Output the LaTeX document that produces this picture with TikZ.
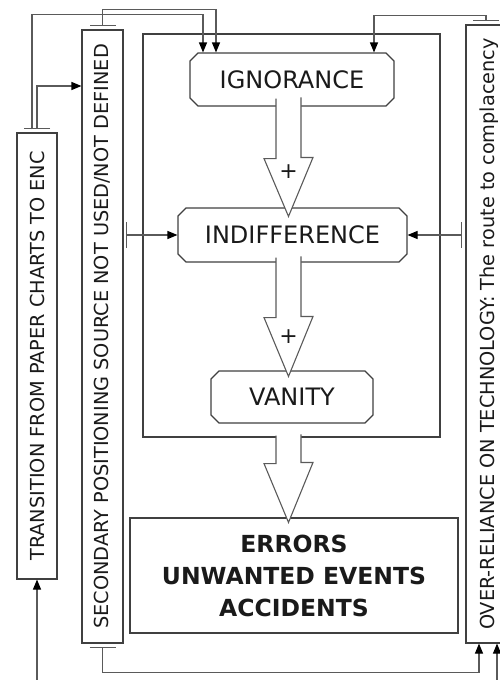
\documentclass[tikz,border=0pt]{standalone}
\usepackage{fontspec}
\setmainfont{DejaVu Sans}
\usepackage{tikz}
\usetikzlibrary{arrows.meta,positioning,shapes.misc,calc}
\definecolor{cline}{HTML}{5A5A5A}
\definecolor{cbox}{HTML}{404040}
\definecolor{ctext}{HTML}{1A1A1A}

\begin{document}
\begin{tikzpicture}[x=1pt, y=-1pt,
    stage/.style={chamfered rectangle, chamfered rectangle xsep=4pt, chamfered rectangle ysep=4pt, draw=cbox, line width=1.1pt, fill=white, inner sep=0pt, text=ctext, font=\fontsize{24}{28}\selectfont},
    side/.style={rectangle, draw=cbox, line width=1.1pt, inner sep=0pt, minimum width=40pt, text=ctext, font=\fontsize{19.3}{23}\selectfont},
    outcome/.style={rectangle, draw=cbox, line width=1.1pt, inner sep=0pt, align=center, text=ctext, font=\fontsize{23.5}{32}\selectfont\bfseries},
    arr/.style={draw=cline, line width=1.1pt, -{Triangle[length=10pt, width=8pt, color=black]}},
    tail/.style={arr, {Bar[width=26pt, color=cline]}-{Triangle[length=10pt, width=8pt, color=black]}},
    blk/.style={draw=cline, fill=white, line width=1.1pt},
    plus/.style={font=\fontsize{22}{22}\selectfont, text=ctext}
]
    \useasboundingbox (0,0) rectangle (499,680);

    % side boxes
    \node[side, minimum height=446pt] (trans) at (37,356) {\rotatebox{90}{TRANSITION FROM PAPER CHARTS TO ENC}};
    \node[side, minimum height=613pt, minimum width=41pt] (second) at (102.5,336.5) {\rotatebox{90}{SECONDARY POSITIONING SOURCE NOT USED/NOT DEFINED}};
    \node[side, minimum height=618pt, minimum width=46pt] (over) at (489,334) {\rotatebox{90}{OVER-RELIANCE ON TECHNOLOGY: The route to complacency}};

    % frame and stages
    \node[rectangle, draw=cbox, line width=1.1pt, minimum width=297pt, minimum height=403pt] (frame) at (291.5,235.5) {};
    \node[stage, minimum width=204pt, minimum height=53pt] (ign) at (292,79.5) {IGNORANCE};
    \node[stage, minimum width=229pt, minimum height=54pt] (ind) at (292.5,235) {INDIFFERENCE};
    \node[stage, minimum width=162pt, minimum height=52pt] (van) at (292,397) {VANITY};
    \node[outcome, minimum width=328pt, minimum height=115pt] (err) at (294,575.5) {ERRORS\\UNWANTED EVENTS\\ACCIDENTS};

    % block arrows
    \filldraw[blk] ([xshift=-16pt,yshift=8pt]ign.south) -- ++(0,60) -- ++(-12,0) -- ([xshift=-4pt,yshift=-9pt]ind.north) -- ++(24.5,-59) -- ++(-12,0) -- ++(0,-60);
    \filldraw[blk] ([xshift=-16.5pt,yshift=5pt]ind.south) -- ++(0,60) -- ++(-12,0) -- ([xshift=-3.5pt,yshift=-6pt]van.north) -- ++(24.5,-60) -- ++(-12,0) -- ++(0,-60);
    \filldraw[blk] ([xshift=-15.5pt,yshift=2pt]frame.south) -- ++(0,28) -- ++(-12,0) -- ([xshift=-5.5pt,yshift=-5pt]err.north) -- ++(24.5,-60) -- ++(-12,0) -- ++(0,-28);
    \node[plus] (plus1) at (288.5,172) {+};
    \node[plus] (plus2) at (288.5,337) {+};

    % connectors
    \draw[arr] ([xshift=-5pt,yshift=3pt]trans.north) -- ++(0,-115) -| ([xshift=-89pt]ign.north);
    \draw[tail] ([yshift=3pt]trans.north) |- ([yshift=250.5pt]second.west);
    \draw[tail] ([yshift=3pt]second.north) -- ++(0,-17) -| ([xshift=-76pt]ign.north);
    \draw[tail] ([xshift=-3pt,yshift=3pt]over.north) -- ++(0,-6) -| ([xshift=82pt]ign.north);
    \draw[tail, shorten <=2pt] (ind.west -| second.east) -- (ind.west);
    \draw[tail, shorten <=3pt] (ind.east -| over.west) -- (ind.east);
    \draw[tail] ([yshift=-3pt]second.south) -- ++(0,26) -| ([xshift=-10pt]over.south);
    \coordinate (tin) at (37,680);
    \draw[arr] (tin) -- (trans.south);
    \coordinate (oin) at (497,680);
    \draw[arr] (oin) -- (oin |- over.south);

\end{tikzpicture}
\end{document}
